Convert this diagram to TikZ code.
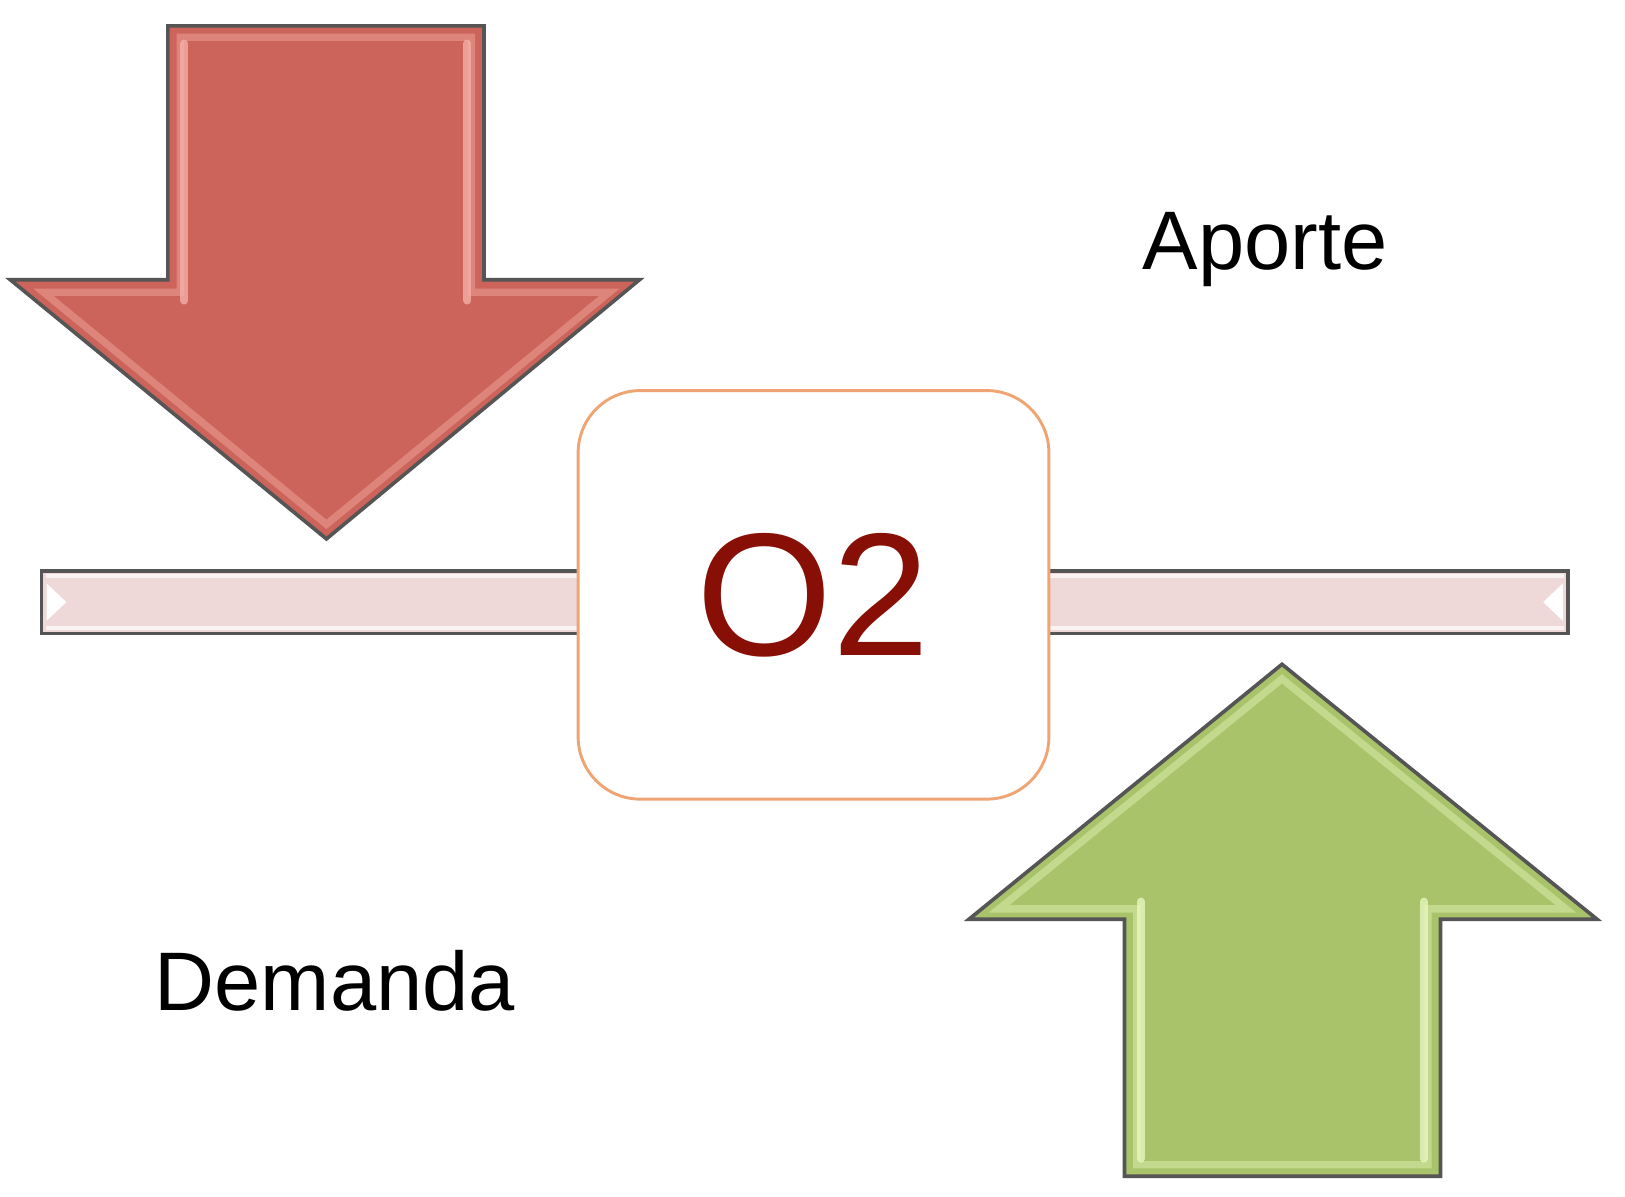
\documentclass[tikz,border=0pt]{standalone}
\usepackage{fontspec}
\setmainfont{Liberation Sans}
\definecolor{redfill}{RGB}{204,100,91}
\definecolor{redhi}{RGB}{248,180,172}
\definecolor{greenfill}{RGB}{168,195,106}
\definecolor{greenhi}{RGB}{236,250,196}
\definecolor{barfill}{RGB}{238,216,216}
\definecolor{outl}{RGB}{85,85,85}
\definecolor{boxorange}{RGB}{238,165,115}
\definecolor{otext}{RGB}{135,15,5}
\tikzset{
  arrowshape/.style={draw=outl, line width=1pt, line join=miter},
  bevel/.style={line width=2pt, opacity=0.4, line join=miter},
  sidebevel/.style={line width=2.2pt, opacity=0.75, line cap=round},
  labeltext/.style={font=\fontsize{22.8pt}{27pt}\selectfont, inner sep=0pt, anchor=base},
  centerbox/.style={draw=boxorange, line width=0.8pt, fill=white, rounded corners=0.6cm,
    minimum width=4.54cm, minimum height=3.94cm, inner sep=0pt,
    text=otext, font=\fontsize{48pt}{52pt}\selectfont}
}
\begin{document}
\begin{tikzpicture}[x=0.01cm,y=-0.01cm]
\useasboundingbox (0,0) rectangle (1568,1155);
\fill[white] (0,0) rectangle (1568,1155);

% horizontal bar
\draw[fill=barfill, draw=outl, line width=0.9pt] (40,551) rectangle (1513,611);
\draw[white, line width=1.2pt, opacity=0.7] (44,556) -- (1509,556);
\draw[white, line width=1.2pt, opacity=0.7] (44,606) -- (1509,606);
\fill[white] (45,563) -- (64,581) -- (45,599) -- cycle;
\fill[white] (1508,563) -- (1489,581) -- (1508,599) -- cycle;

% red down arrow
\draw[arrowshape, fill=redfill] (162,25) -- (467,25) -- (467,270) -- (617,270) -- (315,520)
  -- (10,270) -- (162,270) -- cycle;
\draw[bevel, draw=redhi] (174,36) -- (455,36) -- (455,282) -- (588,282) -- (315,506)
  -- (42,282) -- (174,282) -- cycle;
\draw[sidebevel, draw=redhi] (178,42) -- (178,290);
\draw[sidebevel, draw=redhi] (451,42) -- (451,290);

% green up arrow
\draw[arrowshape, fill=greenfill] (1237,641) -- (1541,887) -- (1390,887) -- (1390,1135)
  -- (1085,1135) -- (1085,887) -- (935,887) -- cycle;
\draw[bevel, draw=greenhi] (1237,655) -- (1511,877) -- (1378,877) -- (1378,1124)
  -- (1097,1124) -- (1097,877) -- (964,877) -- cycle;
\draw[sidebevel, draw=greenhi] (1101,870) -- (1101,1118);
\draw[sidebevel, draw=greenhi] (1374,870) -- (1374,1118);

% central box
\node[centerbox] (o2) at (785,574) {O2};

% labels
\node[labeltext] (aporte) at (1221,260) {Aporte};
\node[labeltext] (demanda) at (323,975) {Demanda};
\end{tikzpicture}
\end{document}
